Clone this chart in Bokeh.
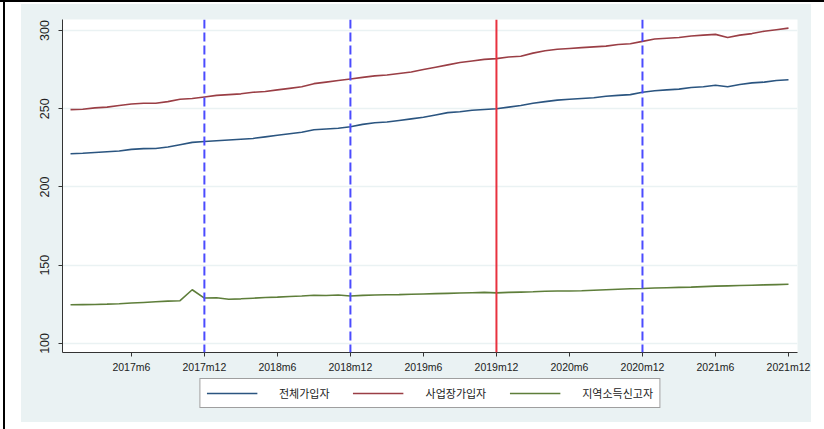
from bokeh.plotting import figure
from bokeh.models import (ColumnDataSource, Span, Legend, LegendItem,
                          FixedTicker, Range1d)
from bokeh.layouts import column
from bokeh.embed import file_html
from bokeh.resources import INLINE

# monthly series, 2017m1 .. 2021m12
months = [f"{y}m{m}" for y in range(2017, 2022) for m in range(1, 13)]

total = [221.2, 221.5, 222.0, 222.5, 223.0, 224.0, 224.5, 224.6, 225.5, 227.0, 228.5, 229.0,
         229.5, 230.0, 230.5, 231.0, 232.0, 233.0, 234.0, 235.0, 236.5, 237.0, 237.5, 238.5,
         240.0, 241.0, 241.5, 242.5, 243.5, 244.5, 246.0, 247.5, 248.0, 249.0, 249.5, 250.0,
         251.0, 252.0, 253.5, 254.5, 255.5, 256.0, 256.5, 257.0, 258.0, 258.5, 259.0, 260.5,
         261.5, 262.0, 262.5, 263.5, 264.0, 265.0, 264.0, 265.5, 266.5, 267.0, 268.0, 268.5]

workplace = [249.4, 249.6, 250.5, 251.0, 252.0, 253.0, 253.5, 253.5, 254.5, 256.0, 256.5, 257.5,
             258.5, 259.0, 259.5, 260.5, 261.0, 262.0, 263.0, 264.0, 266.0, 267.0, 268.0, 269.0,
             270.0, 271.0, 271.5, 272.5, 273.5, 275.0, 276.5, 278.0, 279.5, 280.5, 281.5, 282.0,
             283.0, 283.5, 285.5, 287.0, 288.0, 288.5, 289.0, 289.5, 290.0, 291.0, 291.5, 293.0,
             294.5, 295.0, 295.5, 296.5, 297.0, 297.5, 295.5, 297.0, 298.0, 299.5, 300.5, 301.5]

regional = [124.7, 124.8, 124.9, 125.1, 125.4, 125.8, 126.2, 126.6, 127.0, 127.3, 134.3, 129.0,
            129.2, 128.2, 128.5, 128.9, 129.3, 129.6, 130.0, 130.3, 130.8, 130.6, 130.9, 130.3,
            130.7, 130.9, 131.1, 131.2, 131.4, 131.6, 131.8, 132.0, 132.2, 132.4, 132.6, 132.3,
            132.6, 132.8, 133.0, 133.3, 133.5, 133.5, 133.7, 134.0, 134.3, 134.6, 134.9, 135.1,
            135.4, 135.6, 135.8, 136.0, 136.3, 136.6, 136.8, 137.0, 137.2, 137.4, 137.6, 137.8]

series_names = ["전체가입자", "사업장가입자", "지역소득신고자"]
x_ticks = ["2017m6", "2017m12", "2018m6", "2018m12", "2019m6", "2019m12",
           "2020m6", "2020m12", "2021m6", "2021m12"]
y_ticks = [100, 150, 200, 250, 300]
dashed_marks = ["2017m12", "2018m12", "2020m12"]
solid_mark = "2019m12"

idx = list(range(len(months)))
src = ColumnDataSource(dict(t=idx, total=total, workplace=workplace, regional=regional))

BG = "#EAF2F3"
colors = ["#2B5580", "#9A3E45", "#5E7E3A"]

p = figure(frame_width=735, frame_height=333, output_backend="svg", toolbar_location=None,
           x_range=Range1d(-0.66, 59.74), y_range=Range1d(94.2, 307.0),
           background_fill_color="white", border_fill_color=BG,
           min_border_left=41, min_border_right=14, min_border_top=15,
           min_border_bottom=26, outline_line_color=None)
p.margin = (4, 13, 0, 21)

# horizontal grid only
p.xgrid.grid_line_color = None
p.ygrid.grid_line_color = BG
p.ygrid.grid_line_width = 1.5

# x axis: month labels
pos = {m: i for i, m in enumerate(months)}
p.xaxis.ticker = FixedTicker(ticks=[pos[m] for m in x_ticks])
p.xaxis.major_label_overrides = {pos[m]: m for m in x_ticks}
p.yaxis.ticker = FixedTicker(ticks=y_ticks)
p.yaxis.major_label_orientation = "vertical"

for ax in (p.xaxis[0], p.yaxis[0]):
    ax.axis_line_color = "#333333"
    ax.major_tick_line_color = "#333333"
    ax.major_tick_in = 0
    ax.major_tick_out = 4
    ax.minor_tick_line_color = None
    ax.major_label_text_font = "Liberation Sans"
    ax.major_label_text_color = "#222222"
p.xaxis.major_label_text_font_size = "10.5px"
p.xaxis.major_label_standoff = 4
p.yaxis.major_label_text_font_size = "12.5px"
p.yaxis.major_label_standoff = 9

# reference lines
for m in dashed_marks:
    p.add_layout(Span(location=pos[m], dimension="height", line_color="#4B4BFF",
                      line_width=2, line_dash="9 4"))
p.add_layout(Span(location=pos[solid_mark], dimension="height", line_color="#E8323F",
                  line_width=2))

p.line("t", "total", source=src, line_color=colors[0], line_width=1.6)
p.line("t", "workplace", source=src, line_color=colors[1], line_width=1.6)
p.line("t", "regional", source=src, line_color=colors[2], line_width=1.6)

# legend strip under the chart, sharing the plot-area width
lg = figure(frame_width=735, frame_height=44, output_backend="svg", toolbar_location=None,
            x_range=Range1d(0, 1), y_range=Range1d(0, 1),
            x_axis_location=None, y_axis_location=None,
            background_fill_color=BG, border_fill_color=BG, outline_line_color=None,
            min_border_left=41, min_border_right=14, min_border_top=0, min_border_bottom=0)
lg.margin = (0, 13, 7, 21)
lg.xgrid.grid_line_color = None
lg.ygrid.grid_line_color = None
nan = float("nan")
# key-only renderers: nothing plotted, they just carry the legend swatches
keys = [lg.line(x=[nan], y=[nan], line_color=c, line_width=1.6) for c in colors]

legend = Legend(items=[LegendItem(label=n, renderers=[r]) for n, r in zip(series_names, keys)],
                orientation="horizontal", location="top_center",
                glyph_width=51, glyph_height=14, label_height=14,
                label_standoff=22, spacing=23, padding=6, margin=0,
                label_text_font="Noto Sans CJK KR", label_text_font_size="11px",
                label_text_color="#222222",
                border_line_color="#404040", border_line_width=1,
                background_fill_color="white", background_fill_alpha=1)
lg.add_layout(legend, "center")

# page backdrop: thin black rules on top and left, graph region tint behind both figures
root = column(p, lg, spacing=0, styles={
    "background": "linear-gradient(#000,#000) 0 0/100% 2px no-repeat, "
                  "linear-gradient(#000,#000) 3px 0/2px 100% no-repeat, "
                  f"linear-gradient({BG},{BG}) 21px 4px/790px 418px no-repeat, white"})

open("out.html", "w").write(file_html(root, INLINE))
